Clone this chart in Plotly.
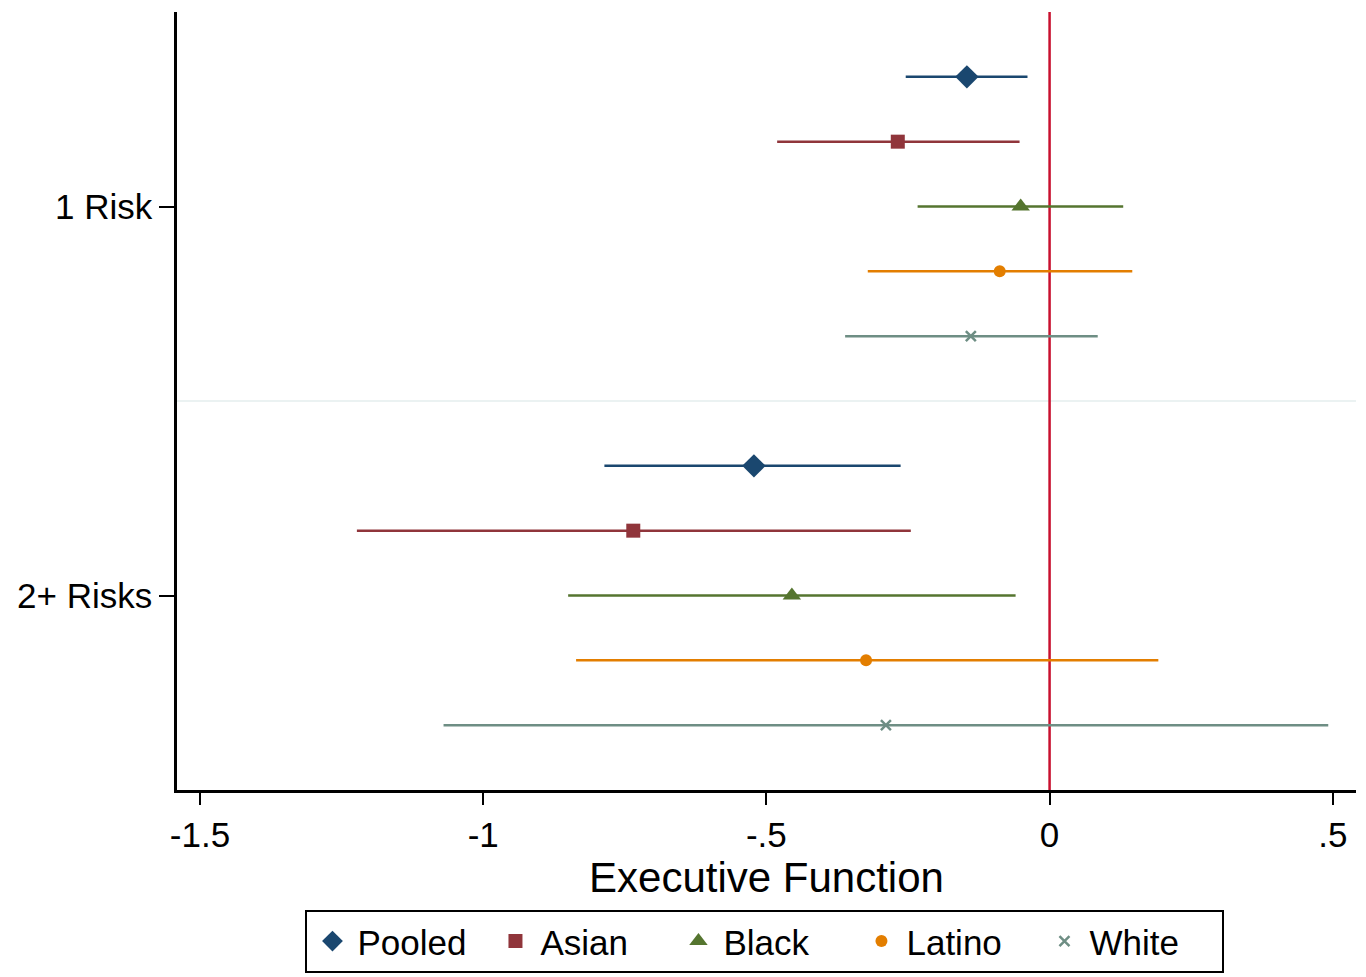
import plotly.graph_objects as go

groups = ["Pooled", "Asian", "Black", "Latino", "White"]
categories = ["1 Risk", "2+ Risks"]
# point estimates [1 Risk, 2+ Risks]
est = {
    "Pooled": [-0.146, -0.522],
    "Asian": [-0.268, -0.735],
    "Black": [-0.051, -0.455],
    "Latino": [-0.088, -0.324],
    "White": [-0.139, -0.289],
}
lo = {
    "Pooled": [-0.254, -0.786],
    "Asian": [-0.481, -1.223],
    "Black": [-0.233, -0.850],
    "Latino": [-0.321, -0.836],
    "White": [-0.361, -1.070],
}
hi = {
    "Pooled": [-0.039, -0.263],
    "Asian": [-0.053, -0.245],
    "Black": [0.130, -0.060],
    "Latino": [0.146, 0.192],
    "White": [0.085, 0.492],
}
x_ticks = [-1.5, -1, -0.5, 0, 0.5]
x_tick_labels = ["-1.5", "-1", "-.5", "0", ".5"]

colors = {"Pooled": "#1a476f", "Asian": "#90353b", "Black": "#55752f",
          "Latino": "#e37e00", "White": "#6e8e84"}
symbols = {"Pooled": "diamond", "Asian": "square", "Black": "triangle-up",
           "Latino": "circle", "White": "x-thin-open"}
sizes = {"Pooled": 18, "Asian": 14, "Black": 16, "Latino": 12, "White": 10}

FONT = "Liberation Sans, Arial, sans-serif"
fig = go.Figure()

for gi, g in enumerate(groups):
    ys = [1 + gi + 6 * ci for ci in range(len(categories))]
    fig.add_trace(go.Scatter(
        x=est[g], y=ys, mode="markers", name=g,
        marker=dict(symbol=symbols[g], size=sizes[g], color=colors[g],
                    line=dict(color=colors[g], width=2.5 if g == "White" else 0)),
        error_x=dict(type="data", symmetric=False,
                     array=[h - e for h, e in zip(hi[g], est[g])],
                     arrayminus=[e - l for e, l in zip(est[g], lo[g])],
                     width=0, thickness=2.5, color=colors[g]),
    ))

# separator between categories
fig.add_shape(type="line", xref="paper", x0=0, x1=1, yref="y", y0=6, y1=6,
              line=dict(color="#e4eeee", width=1.5), layer="below")
# reference line at 0
fig.add_shape(type="line", xref="x", x0=0, x1=0, yref="paper", y0=0, y1=1,
              line=dict(color="#c8102e", width=2.5), layer="below")

fig.update_layout(
    width=1366, height=977,
    margin=dict(l=177, r=10, t=12, b=187, autoexpand=False),
    paper_bgcolor="white", plot_bgcolor="white",
    font=dict(family=FONT, size=35, color="black"),
    showlegend=True,
    legend=dict(orientation="h", x=0.4987, xanchor="center", y=-0.154, yanchor="top",
                bordercolor="black", borderwidth=2, font=dict(size=35),
                itemwidth=40, entrywidth=128, entrywidthmode="pixels"),
    xaxis=dict(range=[-1.5406, 0.541], tickvals=x_ticks, ticktext=x_tick_labels,
               showline=True, linecolor="black", linewidth=2.5, ticks="outside",
               ticklen=12, tickwidth=2, tickcolor="black", showgrid=False, zeroline=False,
               title=dict(text="Executive Function", standoff=0),
               tickfont=dict(size=35)),
    yaxis=dict(range=[12, 0], tickvals=[3, 9], ticktext=categories,
               showline=True, linecolor="black", linewidth=2.5, ticks="outside",
               ticklen=15, tickwidth=2, tickcolor="black", showgrid=False, zeroline=False,
               tickfont=dict(size=35)),
)

fig.write_html("out.html", config={"displayModeBar": False},
               post_script="document.body.style.margin='0';document.body.style.overflow='hidden';")
